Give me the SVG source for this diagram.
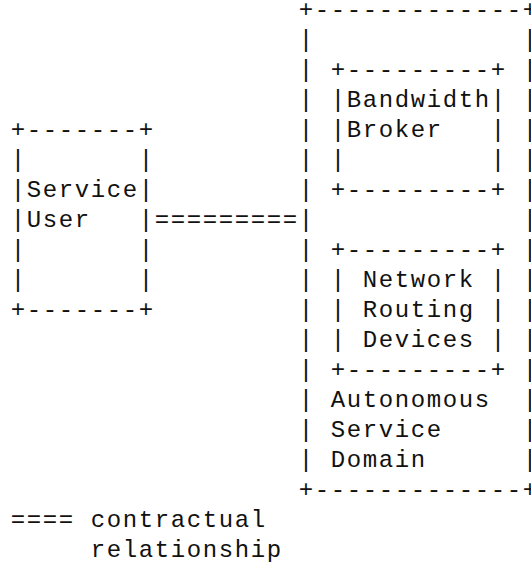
<svg xmlns="http://www.w3.org/2000/svg" width="531" height="567" viewBox="0 0 531 567" xml:space="preserve">
<style>
text { font-family: "Liberation Mono", "DejaVu Sans Mono", monospace; font-size: 24px; letter-spacing: 1.6px; fill: #111; white-space: pre; }
</style>
<rect width="531" height="567" fill="#ffffff"/>
<g id="domain">
<text x="298.8" y="16.5">+-------------+</text>
<text x="298.8" y="46.5">|</text><text x="522.8" y="46.5">|</text>
<text x="298.8" y="76.5">|</text><text x="522.8" y="76.5">|</text>
<text x="298.8" y="106.5">|</text><text x="522.8" y="106.5">|</text>
<text x="298.8" y="136.5">|</text><text x="522.8" y="136.5">|</text>
<text x="298.8" y="166.5">|</text><text x="522.8" y="166.5">|</text>
<text x="298.8" y="196.5">|</text><text x="522.8" y="196.5">|</text>
<text x="298.8" y="226.5">|</text><text x="522.8" y="226.5">|</text>
<text x="298.8" y="256.5">|</text><text x="522.8" y="256.5">|</text>
<text x="298.8" y="286.5">|</text><text x="522.8" y="286.5">|</text>
<text x="298.8" y="316.5">|</text><text x="522.8" y="316.5">|</text>
<text x="298.8" y="346.5">|</text><text x="522.8" y="346.5">|</text>
<text x="298.8" y="376.5">|</text><text x="522.8" y="376.5">|</text>
<text x="298.8" y="406.5">|</text><text x="522.8" y="406.5">|</text>
<text x="298.8" y="436.5">|</text><text x="522.8" y="436.5">|</text>
<text x="298.8" y="466.5">|</text><text x="522.8" y="466.5">|</text>
<text x="330.8" y="406.5">Autonomous</text>
<text x="330.8" y="436.5">Service</text>
<text x="330.8" y="466.5">Domain</text>
<text x="298.8" y="496.5">+-------------+</text>
</g>
<g id="bandwidth-broker">
<text x="330.8" y="76.5">+---------+</text>
<text x="330.8" y="106.5">|Bandwidth|</text>
<text x="330.8" y="136.5">|Broker   |</text>
<text x="330.8" y="166.5">|         |</text>
<text x="330.8" y="196.5">+---------+</text>
</g>
<g id="routing-devices">
<text x="330.8" y="256.5">+---------+</text>
<text x="330.8" y="286.5">| Network |</text>
<text x="330.8" y="316.5">| Routing |</text>
<text x="330.8" y="346.5">| Devices |</text>
<text x="330.8" y="376.5">+---------+</text>
</g>
<g id="service-user">
<text x="10.8" y="136.5">+-------+</text>
<text x="10.8" y="166.5">|       |</text>
<text x="10.8" y="196.5">|Service|</text>
<text x="10.8" y="226.5">|User   |</text>
<text x="10.8" y="256.5">|       |</text>
<text x="10.8" y="286.5">|       |</text>
<text x="10.8" y="316.5">+-------+</text>
</g>
<g id="connectors">
<text x="154.8" y="226.5">=========</text>
</g>
<g id="legend">
<text x="10.8" y="526.5">==== contractual</text>
<text x="90.8" y="556.5">relationship</text>
</g>
</svg>
